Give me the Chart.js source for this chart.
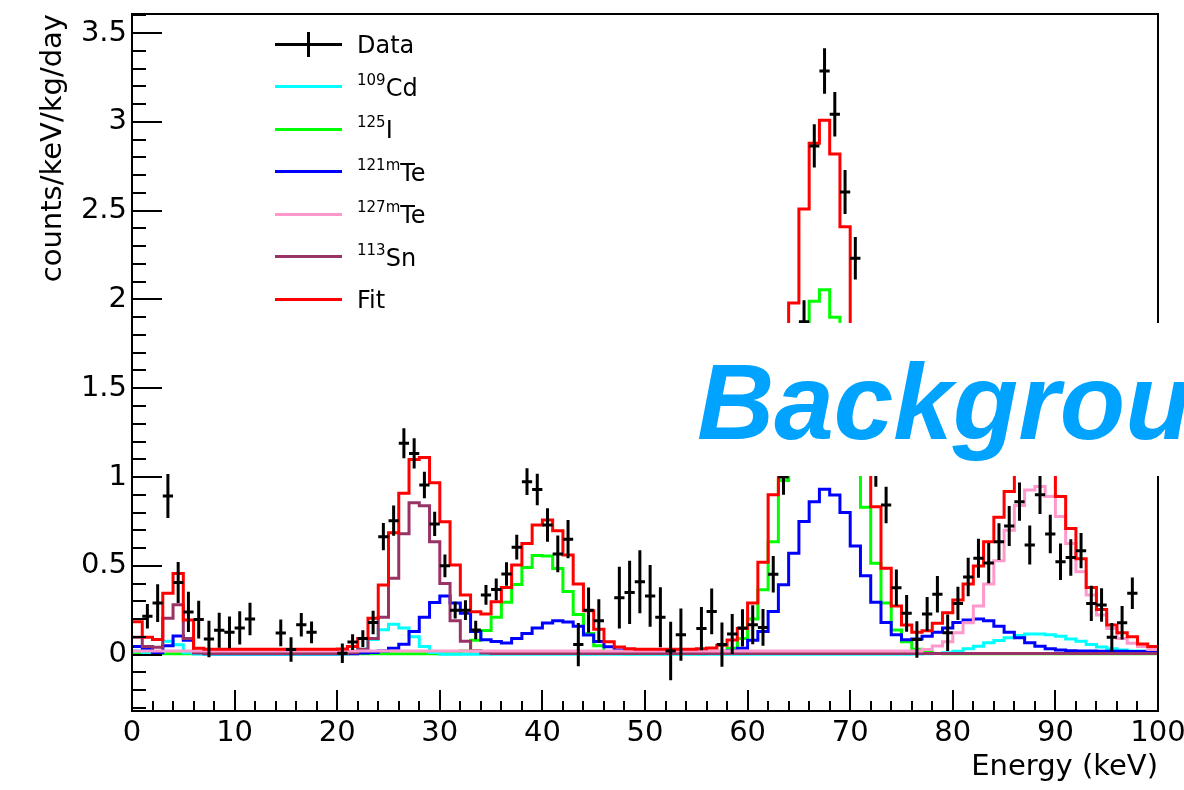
<!DOCTYPE html>
<html>
<head>
<meta charset="utf-8">
<title>Energy spectrum fit</title>
<script src="https://cdn.jsdelivr.net/npm/chart.js@4.4.1/dist/chart.umd.min.js"></script>
<style>
  html, body { margin: 0; padding: 0; background: #fff; }
  #wrap { position: relative; width: 1184px; height: 790px; overflow: hidden; }
  #spectrum { position: absolute; left: 0; top: 0; }
  .key-line { position: absolute; left: 275px; width: 67px; height: 3px; }
  .key-bar { position: absolute; left: 307px; width: 3px; height: 25px; background: #000; }
  .key-text { position: absolute; left: 357px; height: 28px; font: 24px "DejaVu Sans", sans-serif; line-height: 28px; white-space: nowrap; color: #000; }
  .key-text .sup { font-size: 15px; position: relative; top: -11px; }
  #banner { position: absolute; left: 690px; top: 323px; width: 494px; height: 153px; background: #fff; }
  #banner span { position: absolute; left: 7px; top: 26px; font: italic bold 107px "Liberation Sans", Arial, sans-serif; line-height: 107px; color: #00a3ff; white-space: nowrap; }
</style>
</head>
<body>
<div id="wrap">
  <canvas id="spectrum" width="1184" height="790"></canvas>
  <div id="banner"><span>Backgrou</span></div>
</div>
<script>
// 1 keV bins, lower edges 0..99 plus the closing edge at 100
const binEdges = Array.from({length: 101}, (_, k) => k);

const fitVals = [
  0.185, 0.097, 0.085, 0.345, 0.457, 0.195, 0.035, 0.030, 0.030, 0.030,
  0.030, 0.030, 0.030, 0.030, 0.030, 0.030, 0.030, 0.030, 0.030, 0.030,
  0.031, 0.045, 0.091, 0.204, 0.392, 0.686, 0.908, 1.099, 1.110, 0.968,
  0.748, 0.504, 0.335, 0.241, 0.228, 0.297, 0.378, 0.504, 0.626, 0.730,
  0.758, 0.698, 0.560, 0.397, 0.247, 0.142, 0.072, 0.042, 0.033, 0.030,
  0.030, 0.030, 0.030, 0.030, 0.030, 0.032, 0.037, 0.052, 0.082, 0.147,
  0.290, 0.520, 0.900, 1.400, 1.980, 2.510, 2.880, 3.010, 2.820, 2.410,
  1.780, 1.300, 0.833, 0.486, 0.273, 0.166, 0.125, 0.134, 0.176, 0.236,
  0.307, 0.397, 0.499, 0.636, 0.773, 0.918, 1.050, 1.100, 1.100, 1.015,
  0.890, 0.710, 0.540, 0.378, 0.254, 0.166, 0.123, 0.100, 0.060, 0.045
];

const cd109 = [
  0.020, 0.005, 0.015, 0.075, 0.055, 0.010, 0.003, 0.002, 0.002, 0.002,
  0.002, 0.002, 0.002, 0.002, 0.002, 0.002, 0.002, 0.002, 0.002, 0.002,
  0.003, 0.010, 0.030, 0.085, 0.140, 0.170, 0.150, 0.100, 0.045, 0.012,
  0.002, 0.002, 0.002, 0.002, 0.002, 0.002, 0.002, 0.002, 0.002, 0.002,
  0.002, 0.002, 0.002, 0.002, 0.002, 0.002, 0.002, 0.002, 0.002, 0.002,
  0.002, 0.002, 0.002, 0.002, 0.002, 0.002, 0.002, 0.002, 0.002, 0.002,
  0.002, 0.002, 0.002, 0.002, 0.002, 0.002, 0.002, 0.002, 0.002, 0.002,
  0.002, 0.002, 0.002, 0.002, 0.002, 0.002, 0.003, 0.004, 0.006, 0.010,
  0.019, 0.032, 0.047, 0.066, 0.079, 0.094, 0.107, 0.116, 0.116, 0.112,
  0.103, 0.088, 0.075, 0.056, 0.043, 0.032, 0.025, 0.020, 0.020, 0.020
];

const i125 = [
  0.004, 0.004, 0.004, 0.004, 0.004, 0.004, 0.004, 0.004, 0.004, 0.004,
  0.004, 0.004, 0.004, 0.004, 0.004, 0.004, 0.004, 0.004, 0.004, 0.004,
  0.004, 0.004, 0.004, 0.004, 0.004, 0.004, 0.004, 0.004, 0.004, 0.004,
  0.004, 0.004, 0.020, 0.080, 0.135, 0.210, 0.295, 0.395, 0.490, 0.558,
  0.555, 0.485, 0.355, 0.225, 0.118, 0.050, 0.015, 0.006, 0.004, 0.004,
  0.004, 0.004, 0.004, 0.004, 0.004, 0.005, 0.007, 0.015, 0.035, 0.090,
  0.200, 0.365, 0.635, 0.980, 1.380, 1.740, 1.990, 2.055, 1.900, 1.585,
  1.150, 0.830, 0.514, 0.290, 0.138, 0.072, 0.030, 0.012, 0.006, 0.004,
  0.004, 0.004, 0.004, 0.004, 0.004, 0.004, 0.004, 0.004, 0.004, 0.004,
  0.004, 0.004, 0.004, 0.004, 0.004, 0.004, 0.004, 0.004, 0.004, 0.004
];

const te121m = [
  0.045, 0.030, 0.010, 0.050, 0.105, 0.080, 0.010, 0.005, 0.005, 0.005,
  0.005, 0.005, 0.005, 0.005, 0.005, 0.005, 0.005, 0.005, 0.005, 0.005,
  0.005, 0.005, 0.008, 0.012, 0.020, 0.035, 0.058, 0.130, 0.210, 0.293,
  0.330, 0.290, 0.232, 0.130, 0.083, 0.073, 0.065, 0.090, 0.119, 0.149,
  0.178, 0.190, 0.184, 0.160, 0.110, 0.073, 0.044, 0.025, 0.015, 0.010,
  0.010, 0.010, 0.010, 0.010, 0.010, 0.010, 0.012, 0.015, 0.022, 0.035,
  0.080, 0.130, 0.243, 0.393, 0.571, 0.749, 0.861, 0.931, 0.899, 0.800,
  0.612, 0.444, 0.294, 0.180, 0.112, 0.084, 0.087, 0.103, 0.125, 0.150,
  0.180, 0.195, 0.200, 0.190, 0.160, 0.125, 0.094, 0.066, 0.047, 0.032,
  0.025, 0.022, 0.020, 0.020, 0.019, 0.018, 0.018, 0.017, 0.017, 0.016
];

const te127m = [
  0.020, 0.020, 0.020, 0.020, 0.020, 0.020, 0.020, 0.020, 0.020, 0.020,
  0.020, 0.020, 0.020, 0.020, 0.020, 0.020, 0.020, 0.020, 0.020, 0.020,
  0.020, 0.020, 0.020, 0.020, 0.020, 0.020, 0.020, 0.020, 0.020, 0.020,
  0.020, 0.020, 0.020, 0.020, 0.020, 0.020, 0.020, 0.020, 0.020, 0.020,
  0.020, 0.020, 0.020, 0.020, 0.020, 0.020, 0.020, 0.020, 0.020, 0.020,
  0.020, 0.020, 0.020, 0.020, 0.020, 0.020, 0.020, 0.020, 0.020, 0.020,
  0.020, 0.020, 0.020, 0.020, 0.020, 0.020, 0.020, 0.020, 0.020, 0.020,
  0.020, 0.020, 0.020, 0.020, 0.020, 0.020, 0.020, 0.029, 0.048, 0.072,
  0.123, 0.179, 0.273, 0.397, 0.529, 0.700, 0.840, 0.927, 0.946, 0.890,
  0.777, 0.626, 0.467, 0.335, 0.223, 0.147, 0.091, 0.063, 0.045, 0.029
];

const sn113 = [
  0.097, 0.045, 0.041, 0.204, 0.280, 0.090, 0.010, 0.006, 0.006, 0.006,
  0.006, 0.006, 0.006, 0.006, 0.006, 0.006, 0.006, 0.006, 0.006, 0.006,
  0.006, 0.010, 0.030, 0.090, 0.210, 0.430, 0.680, 0.855, 0.838, 0.636,
  0.400, 0.190, 0.075, 0.022, 0.008, 0.006, 0.006, 0.006, 0.006, 0.006,
  0.006, 0.006, 0.006, 0.006, 0.006, 0.006, 0.006, 0.006, 0.006, 0.006,
  0.006, 0.006, 0.006, 0.006, 0.006, 0.006, 0.006, 0.006, 0.006, 0.006,
  0.006, 0.006, 0.006, 0.006, 0.006, 0.006, 0.006, 0.006, 0.006, 0.006,
  0.006, 0.006, 0.006, 0.006, 0.006, 0.006, 0.006, 0.006, 0.006, 0.006,
  0.006, 0.006, 0.006, 0.006, 0.006, 0.006, 0.006, 0.006, 0.006, 0.006,
  0.006, 0.006, 0.006, 0.006, 0.006, 0.006, 0.006, 0.006, 0.006, 0.006
];

// measured points: bin centre (keV), rate, statistical error
const dataE = [
  1.5, 2.5, 3.5, 4.5, 5.5, 6.5, 7.5, 8.5, 9.5, 10.5, 11.5,
  14.5, 15.5, 16.5, 17.5,
  20.5, 21.5, 22.5, 23.5, 24.5, 25.5, 26.5, 27.5, 28.5, 29.5,
  30.5, 31.5, 32.5, 33.5, 34.5, 35.5, 36.5, 37.5, 38.5, 39.5,
  40.5, 41.5, 42.5, 43.5, 44.5, 45.5, 47.5, 48.5, 49.5,
  50.5, 51.5, 52.5, 53.5, 55.5, 56.5, 57.5, 58.5, 59.5,
  60.5, 61.5, 62.5, 63.5, 64.5, 65.5, 66.5, 67.5, 68.5, 69.5,
  70.5, 71.5, 72.5, 73.5, 74.5, 75.5, 76.5, 77.5, 78.5, 79.5,
  80.5, 81.5, 82.5, 83.5, 84.5, 85.5, 86.5, 87.5, 88.5, 89.5,
  90.5, 91.5, 92.5, 93.5, 94.5, 95.5, 96.5, 97.5
];
const dataVal = [
  0.215, 0.290, 0.893, 0.406, 0.240, 0.197, 0.088, 0.137, 0.125, 0.150, 0.200,
  0.122, 0.028, 0.168, 0.125,
  0.007, 0.070, 0.090, 0.180, 0.664, 0.754, 1.190, 1.133, 0.955, 0.736,
  0.500, 0.250, 0.250, 0.138, 0.336, 0.367, 0.454, 0.605, 0.974, 0.930,
  0.730, 0.567, 0.650, 0.056, 0.250, 0.190, 0.320, 0.350, 0.410,
  0.330, 0.210, 0.020, 0.112, 0.146, 0.243, 0.056, 0.116, 0.150,
  0.168, 0.153, 0.452, 1.000, 1.550, 1.875, 2.865, 3.287, 3.043, 2.606,
  2.232, 1.450, 1.055, 0.842, 0.376, 0.232, 0.085, 0.228, 0.340, 0.123,
  0.288, 0.437, 0.542, 0.515, 0.636, 0.724, 0.861, 0.617, 0.900, 0.679,
  0.523, 0.547, 0.585, 0.288, 0.279, 0.097, 0.179, 0.345
];
const dataErr = [
  0.069, 0.106, 0.124, 0.115, 0.113, 0.106, 0.103, 0.099, 0.089, 0.094, 0.092,
  0.075, 0.069, 0.066, 0.061,
  0.055, 0.044, 0.047, 0.066, 0.077, 0.085, 0.085, 0.085, 0.075, 0.068,
  0.064, 0.047, 0.056, 0.052, 0.056, 0.061, 0.066, 0.070, 0.075, 0.089,
  0.094, 0.103, 0.108, 0.122, 0.127, 0.122, 0.174, 0.178, 0.178,
  0.174, 0.169, 0.165, 0.147, 0.122, 0.129, 0.125, 0.113, 0.105,
  0.110, 0.103, 0.103, 0.100, 0.115, 0.120, 0.122, 0.128, 0.125, 0.124,
  0.120, 0.115, 0.110, 0.103, 0.103, 0.103, 0.103, 0.096, 0.103, 0.103,
  0.094, 0.108, 0.110, 0.113, 0.103, 0.113, 0.108, 0.110, 0.108, 0.108,
  0.103, 0.103, 0.099, 0.099, 0.094, 0.080, 0.094, 0.089
];

const xTicks = [0, 10, 20, 30, 40, 50, 60, 70, 80, 90, 100];
const yTicks = [0, 0.5, 1, 1.5, 2, 2.5, 3, 3.5];

const colors = {
  cd: '#00ffff', i: '#00ff00', te121: '#0000ff',
  te127: '#ff99cc', sn: '#993366', fit: '#ff0000', data: '#000000'
};

// step outline: each bin value held from its lower edge to the next edge
function histPoints(vals) {
  return binEdges.map(e => ({x: e, y: vals[Math.min(e, vals.length - 1)]}));
}

// error crosses: vertical bar +-err, horizontal bar across the bin width
const crossPts = [];
dataE.forEach((e, i) => {
  const v = dataVal[i], s = dataErr[i];
  crossPts.push({x: e, y: v - s}, {x: e, y: v + s}, {x: e, y: null});
  crossPts.push({x: e - 0.5, y: v}, {x: e + 0.5, y: v}, {x: e, y: null});
});

function histSet(label, vals, color, order) {
  return {
    label: label,
    data: histPoints(vals),
    borderColor: color,
    borderWidth: 3,
    stepped: true,
    pointRadius: 0,
    fill: false,
    order: order
  };
}

// frame and ROOT-style inward ticks (minor every 2 keV / 0.1)
const frame = {
  id: 'frame',
  afterDatasetsDraw(chart) {
    const {ctx, chartArea: a, scales: {x, y}} = chart;
    ctx.save();
    ctx.strokeStyle = '#000';
    ctx.lineWidth = 2;
    ctx.beginPath();
    for (let v = 0; v <= 100; v += 2) {
      const px = Math.round(x.getPixelForValue(v));
      const len = v % 10 === 0 ? 21 : 10;
      ctx.moveTo(px, a.bottom);
      ctx.lineTo(px, a.bottom - len);
    }
    for (let i = -3; i <= 36; i++) {
      const py = Math.round(y.getPixelForValue(i / 10));
      const len = i % 5 === 0 ? 30 : 14;
      ctx.moveTo(a.left, py);
      ctx.lineTo(a.left + len, py);
    }
    ctx.stroke();
    ctx.strokeRect(a.left, a.top, a.right - a.left, a.bottom - a.top);
    ctx.restore();
  }
};

const tickFont = {family: 'DejaVu Sans', size: 29};

new Chart(document.getElementById('spectrum'), {
  type: 'line',
  data: {
    datasets: [
      {
        label: 'Data',
        data: crossPts,
        borderColor: colors.data,
        borderWidth: 3,
        pointRadius: 0,
        spanGaps: false,
        fill: false,
        order: 0
      },
      histSet('Fit', fitVals, colors.fit, 1),
      histSet('127mTe', te127m, colors.te127, 2),
      histSet('113Sn', sn113, colors.sn, 3),
      histSet('121mTe', te121m, colors.te121, 4),
      histSet('109Cd', cd109, colors.cd, 5),
      histSet('125I', i125, colors.i, 6)
    ]
  },
  options: {
    responsive: false,
    animation: false,
    devicePixelRatio: 1,
    layout: {padding: {top: 14, right: 26, left: 0, bottom: 0}},
    plugins: {
      legend: {display: false},
      tooltip: {enabled: false}
    },
    scales: {
      x: {
        type: 'linear',
        min: 0,
        max: 100,
        grid: {display: false, drawTicks: false},
        border: {display: false},
        afterBuildTicks: s => { s.ticks = xTicks.map(v => ({value: v})); },
        afterFit: s => { s.height = 79; s.paddingLeft = 0; s.paddingRight = 0; },
        ticks: {
          padding: 5,
          maxRotation: 0,
          autoSkip: false,
          color: '#000',
          font: tickFont,
          callback: v => String(v)
        },
        title: {
          display: true,
          text: 'Energy (keV)',
          align: 'end',
          color: '#000',
          font: tickFont,
          padding: {top: 0, bottom: 5}
        }
      },
      y: {
        type: 'linear',
        min: -0.318,
        max: 3.608,
        grid: {display: false, drawTicks: false},
        border: {display: false},
        afterBuildTicks: s => { s.ticks = yTicks.map(v => ({value: v})); },
        afterFit: s => { s.width = 132; s.paddingTop = 0; s.paddingBottom = 0; },
        ticks: {
          padding: 5,
          autoSkip: false,
          color: '#000',
          font: tickFont,
          callback: v => String(v)
        },
        title: {
          display: true,
          text: 'counts/keV/kg/day',
          align: 'end',
          color: '#000',
          font: tickFont,
          padding: {top: 36, bottom: 0}
        }
      }
    }
  },
  plugins: [frame]
});

// legend box, top left inside the frame
const keyRows = [
  ['', 'Data', colors.data],
  ['109', 'Cd', colors.cd],
  ['125', 'I', colors.i],
  ['121m', 'Te', colors.te121],
  ['127m', 'Te', colors.te127],
  ['113', 'Sn', colors.sn],
  ['', 'Fit', colors.fit]
];
const wrap = document.getElementById('wrap');
keyRows.forEach(([sup, name, color], i) => {
  const y = 44 + i * 42.5;
  const line = document.createElement('div');
  line.className = 'key-line';
  line.style.top = (y - 1.5) + 'px';
  line.style.background = color;
  wrap.insertBefore(line, document.getElementById('banner'));
  if (name === 'Data') {
    const bar = document.createElement('div');
    bar.className = 'key-bar';
    bar.style.top = (y - 12) + 'px';
    wrap.insertBefore(bar, document.getElementById('banner'));
  }
  const text = document.createElement('div');
  text.className = 'key-text';
  text.style.top = (y - 13) + 'px';
  if (sup) {
    const s = document.createElement('span');
    s.className = 'sup';
    s.textContent = sup;
    text.appendChild(s);
  }
  text.appendChild(document.createTextNode(name));
  wrap.insertBefore(text, document.getElementById('banner'));
});
</script>
</body>
</html>
